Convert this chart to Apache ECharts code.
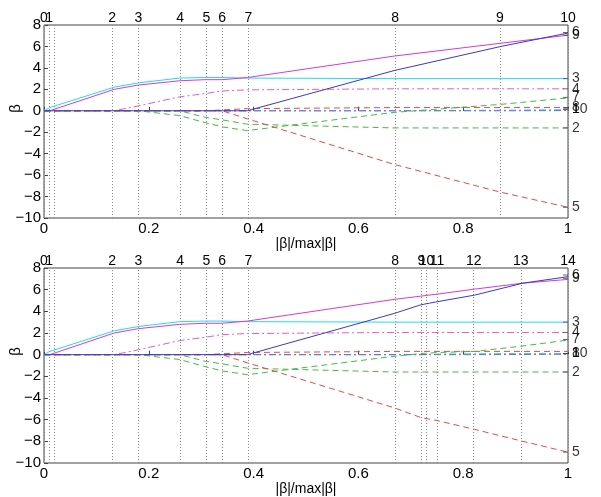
<!DOCTYPE html>
<html><head><meta charset="utf-8">
<script src="https://cdn.jsdelivr.net/npm/echarts@6/dist/echarts.min.js"></script>
<style>html,body{margin:0;padding:0;background:#fff}#c{width:601px;height:497px}</style>
</head><body><div id="c"></div>
<script>
// ---------- data ----------
// step positions (|beta|/max|beta|) and labels, top panel (LARS)
const stepsTop = [0, 0.011, 0.134, 0.18, 0.259, 0.307, 0.34, 0.388, 0.668, 0.872, 1.0];
const stepLabelsTop = ['0','1','2','3','4','5','6','7','8','9','10'];
// step positions and labels, bottom panel (lasso)
const stepsBot = [0, 0.011, 0.134, 0.18, 0.259, 0.307, 0.34, 0.388, 0.668, 0.719, 0.735, 0.752, 0.822, 0.914, 1.0];
const stepLabelsBot = ['0','1','2','3','4','5','6','7','8','9','10','11','12','13','14'];
const extraDotted = [0.019];

// coefficient paths at the steps, top panel
const topV3  = [0, 0.3, 2.2, 2.6, 3.05, 3.1, 3.1, 3.05, 3.0, 3.0, 3.0];
const topV9  = [0, 0, 2.0, 2.4, 2.8, 2.9, 2.9, 3.1, 5.1, 6.3, 7.05];
const topV6  = [0, 0, 0, 0, 0, 0, 0, 0, 3.75, 6.0, 7.25];
const topV4  = [0, 0, 0, 0.45, 1.3, 1.6, 1.85, 1.95, 2.05, 2.05, 2.05];
const topV7  = [0, 0, 0, 0, -0.45, -1.1, -1.5, -1.85, -0.15, 0.6, 1.2];
const topV2  = [0, 0, 0, 0, 0, -0.6, -0.85, -1.25, -1.6, -1.6, -1.6];
const topV8  = [0, 0, 0, 0, 0, 0, 0.08, 0.2, 0.3, 0.3, 0.3];
const topV5  = [0, 0, 0, 0, 0, 0, 0, -0.75, -5.0, -7.6, -9.0];
const topV1  = [0, 0, 0, 0, 0, 0, 0, 0, 0, 0.05, 0.1];
const topV10 = [0, 0, 0, 0, 0, 0, 0, 0, 0, 0, 0.02];

// coefficient paths at the steps, bottom panel
const botV3  = [0, 0.3, 2.2, 2.6, 3.05, 3.1, 3.1, 3.05, 3.0, 3.0, 3.0, 3.0, 3.0, 3.0, 3.0];
const botV9  = [0, 0, 2.0, 2.4, 2.8, 2.9, 2.9, 3.1, 5.1, 5.4, 5.5, 5.6, 6.05, 6.6, 6.95];
const botV6  = [0, 0, 0, 0, 0, 0, 0, 0, 3.8, 4.6, 4.75, 4.9, 5.5, 6.6, 7.2];
const botV4  = [0, 0, 0, 0.45, 1.3, 1.6, 1.85, 1.95, 2.05, 2.05, 2.05, 2.05, 2.05, 2.05, 2.05];
const botV7  = [0, 0, 0, 0, -0.45, -1.1, -1.5, -1.85, -0.15, 0.1, 0.15, 0.2, 0.3, 0.8, 1.35];
const botV2  = [0, 0, 0, 0, 0, -0.6, -0.85, -1.25, -1.6, -1.6, -1.6, -1.6, -1.6, -1.6, -1.6];
const botV8  = [0, 0, 0, 0, 0, 0, 0.08, 0.2, 0.3, 0.3, 0.3, 0.3, 0.3, 0.3, 0.3];
const botV5  = [0, 0, 0, 0, 0, 0, 0, -0.75, -4.9, -5.8, -5.95, -6.1, -6.9, -8.0, -9.0];
const botV1  = [0, 0, 0, 0, 0, 0, 0, 0, 0, 0, 0.03, 0.05, 0.08, 0.1, 0.1];
const botV10 = [0, 0, 0, 0, 0, 0, 0, 0, 0, 0, 0, 0, 0, 0.02, 0.04];

// variable labels on the right edge
const rightTextTop = ['6', '9', '3', '4', '7', '8', '1', '10', '2', '5'];
const rightValTop  = [7.3, 7.05, 3.0, 2.05, 1.25, 0.3, 0.15, 0.15, -1.6, -9.0];
const rightTextBot = ['6', '9', '3', '4', '7', '8', '1', '10', '2', '5'];
const rightValBot  = [7.35, 7.05, 3.0, 2.05, 1.4, 0.1, 0.1, 0.1, -1.6, -9.0];

const yTicks = [-10, 8, 2]; // min, max, interval
const xTicks = [0, 1, 0.2];

// ---------- styles ----------
const FONT = 'Liberation Sans, Arial, Helvetica, sans-serif';
const sty = {
  v3:  {color:'#22dde8', type:'solid'},
  v9:  {color:'#d63ad6', type:'solid'},
  v6:  {color:'#3a3ac8', type:'solid'},
  v4:  {color:'#d860d8', type:[7,3,2,3]},
  v7:  {color:'#44bb44', type:[6,4]},
  v2:  {color:'#44bb44', type:[6,4]},
  v8:  {color:'#e84a4a', type:[6,4]},
  v5:  {color:'#e84a4a', type:[6,4]},
  v1:  {color:'#33ccdd', type:[7,3,2,3]},
  v10: {color:'#6a6ad8', type:[7,3,2,3]}
};

const panels = [
  {steps: stepsTop, labels: stepLabelsTop, rt: rightTextTop, rv: rightValTop,
   lines: {v1:topV1, v10:topV10, v8:topV8, v2:topV2, v7:topV7, v4:topV4, v5:topV5, v3:topV3, v9:topV9, v6:topV6}},
  {steps: stepsBot, labels: stepLabelsBot, rt: rightTextBot, rv: rightValBot,
   lines: {v1:botV1, v10:botV10, v8:botV8, v2:botV2, v7:botV7, v4:botV4, v5:botV5, v3:botV3, v9:botV9, v6:botV6}}
];

const grids = [
  {left:44, top:25, width:524, height:193},
  {left:44, top:268, width:524, height:195}
];

const minus = v => String(Math.round(v*10)/10).replace('-', '\u2212');
const xAxes = [], yAxes = [], series = [];
grids.forEach((g, gi) => {
  g.show = true; g.borderColor = '#444'; g.borderWidth = 1; g.backgroundColor = 'rgba(0,0,0,0)';
  xAxes.push({gridIndex:gi, type:'value', min:xTicks[0], max:xTicks[1], interval:xTicks[2],
    axisLine:{show:false}, splitLine:{show:false},
    axisTick:{show:true, inside:true, length:4, lineStyle:{color:'#444'}},
    axisLabel:{color:'#000', fontSize:15, fontFamily:FONT, margin:3, formatter: minus},
    name:'|β|/max|β|', nameLocation:'middle', nameGap:16,
    nameTextStyle:{color:'#000', fontSize:14, fontFamily:FONT}});
  yAxes.push({gridIndex:gi, type:'value', min:yTicks[0], max:yTicks[1], interval:yTicks[2],
    axisLine:{show:false}, splitLine:{show:false},
    axisTick:{show:true, inside:true, length:4, lineStyle:{color:'#444'}},
    axisLabel:{color:'#000', fontSize:15, fontFamily:FONT, margin:3, formatter: minus}});
});

panels.forEach((p, pi) => {
  let first = true;
  Object.keys(p.lines).forEach(k => {
    const vals = p.lines[k];
    const s = {
      type:'line', xAxisIndex:pi, yAxisIndex:pi, symbol:'none', silent:true,
      animation:false, z:3,
      lineStyle:{color:sty[k].color, type:sty[k].type, width:1},
      data: p.steps.map((x, i) => [x, vals[i]])
    };
    if (first) {
      first = false;
      const ml = p.steps.map((x, i) => ({xAxis:x, label:{formatter:p.labels[i]}}));
      extraDotted.forEach(x => ml.push({xAxis:x, label:{show:false}}));
      s.markLine = {
        silent:true, animation:false, symbol:['none','none'], z:2,
        lineStyle:{color:'#888', type:[1,2], width:1},
        label:{show:true, position:'end', distance:0, color:'#000', fontSize:14, fontFamily:FONT},
        data: ml
      };
    }
    series.push(s);
  });
  series.push({
    type:'scatter', xAxisIndex:pi, yAxisIndex:pi, silent:true, animation:false, clip:false, z:4,
    symbol:'rect', symbolSize:[5,1], symbolOffset:[-2.5,0], itemStyle:{color:'#444'},
    label:{show:true, position:'right', distance:4, color:'#000', fontSize:14, fontFamily:FONT},
    data: p.rv.map((v, i) => ({value:[xTicks[1], v], label:{formatter:p.rt[i]}}))
  });
});

const chart = echarts.init(document.getElementById('c'), null, {renderer:'canvas'});
chart.setOption({
  animation:false,
  backgroundColor:'#fff',
  grid: grids,
  xAxis: xAxes,
  yAxis: yAxes,
  series: series,
  graphic: [
    {type:'text', left:8, top:104, rotation:Math.PI/2, style:{text:'β', fontSize:15, fontFamily:FONT, fill:'#000'}},
    {type:'text', left:8, top:347, rotation:Math.PI/2, style:{text:'β', fontSize:15, fontFamily:FONT, fill:'#000'}}
  ]
});
</script>
</body></html>
